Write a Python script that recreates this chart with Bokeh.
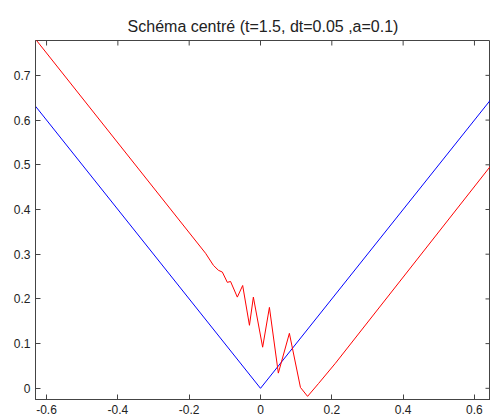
from bokeh.plotting import figure
from bokeh.models import Range1d, LinearAxis, FixedTicker
from bokeh.embed import file_html
from bokeh.resources import INLINE

title_text = "Schéma centré (t=1.5, dt=0.05 ,a=0.1)"

# exact solution (blue)
blue_x = [-0.631, 0.0, 0.645]
blue_y = [0.631, 0.0, 0.645]

# centered scheme solution (red)
red_x = [-0.631, -0.154, -0.132, -0.118, -0.107, -0.093, -0.084, -0.065, -0.050,
         -0.031, -0.020, 0.006, 0.025, 0.050, 0.081, 0.112, 0.132, 0.163, 0.210, 0.645]
red_y = [0.781, 0.302, 0.275, 0.264, 0.260, 0.237, 0.239, 0.204, 0.230,
         0.141, 0.204, 0.092, 0.181, 0.034, 0.123, 0.002, -0.018, 0.011, 0.056, 0.497]

x_ticks = [-0.6, -0.4, -0.2, 0.0, 0.2, 0.4, 0.6]
x_labels = ["-0.6", "-0.4", "-0.2", "0", "0.2", "0.4", "0.6"]
y_ticks = [0.0, 0.1, 0.2, 0.3, 0.4, 0.5, 0.6, 0.7]
y_labels = ["0", "0.1", "0.2", "0.3", "0.4", "0.5", "0.6", "0.7"]

X_MIN, X_MAX = -0.631, 0.645
Y_MIN, Y_MAX = -0.025, 0.778

FONT = "Liberation Sans"
AX = "#444444"
TXT = "#222222"

p = figure(width=490, height=417, output_backend="svg", toolbar_location=None,
           x_range=Range1d(X_MIN, X_MAX), y_range=Range1d(Y_MIN, Y_MAX),
           x_axis_location=None, y_axis_location=None,
           min_border_left=35, min_border_right=0, min_border_top=40, min_border_bottom=18)
p.background_fill_color = "white"
p.border_fill_color = "white"
p.outline_line_color = AX
p.xgrid.visible = False
p.ygrid.visible = False

p.title.text = title_text
p.title.align = "center"
p.title.text_font = FONT
p.title.text_font_size = "16px"
p.title.text_font_style = "normal"
p.title.text_color = TXT
p.title.standoff = 12


def make_axis(ticks, labels):
    ax = LinearAxis(ticker=FixedTicker(ticks=ticks))
    ax.major_tick_in = 5
    ax.major_tick_out = 0
    ax.minor_tick_in = 0
    ax.minor_tick_out = 0
    ax.axis_line_color = AX
    ax.major_tick_line_color = AX
    ax.major_label_text_font = FONT
    ax.major_label_text_font_size = "12px"
    ax.major_label_text_color = TXT
    ax.major_label_overrides = {t: l for t, l in zip(ticks, labels)}
    ax.major_label_standoff = 5
    return ax


p.add_layout(make_axis(x_ticks, x_labels), "below")
p.add_layout(make_axis(y_ticks, y_labels), "left")

# inward tick marks on the top and right edges of the box (no labels)
p.scatter(x=x_ticks, y=[Y_MAX] * len(x_ticks), marker="dash", size=10, angle=1.5708,
          line_color=AX, line_width=1)
p.scatter(x=[X_MAX] * len(y_ticks), y=y_ticks, marker="dash", size=10,
          line_color=AX, line_width=1)

p.line(blue_x, blue_y, line_color="#0000ff", line_width=1)
p.line(red_x, red_y, line_color="#ff0000", line_width=1)

open("out.html", "w").write(file_html(p, INLINE))
